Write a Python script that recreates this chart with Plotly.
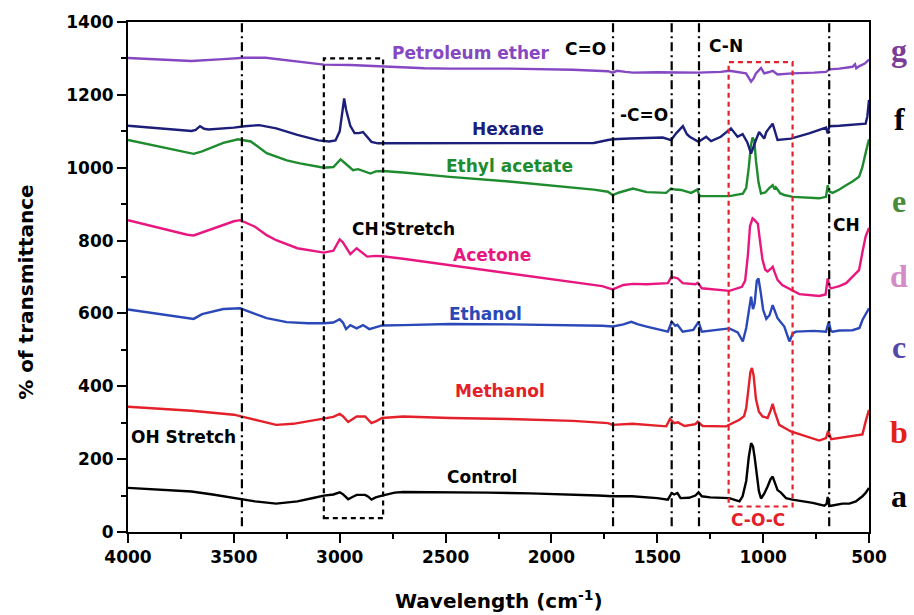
import plotly.graph_objects as go

# FTIR spectra of extracts in different solvents (stacked, offset transmittance)
control_wn = [4000, 3850, 3700, 3600, 3500, 3400, 3300, 3200, 3120, 3075, 3030, 3000, 2985, 2960, 2940,
              2920, 2880, 2865, 2850, 2830, 2800, 2770, 2740, 2700, 2600, 2480, 2300, 2100, 1900, 1780, 1710,
              1620, 1500, 1450, 1432, 1420, 1405, 1390, 1350, 1320, 1305, 1290, 1250, 1200, 1160, 1112,
              1097, 1080, 1068, 1057, 1048, 1040, 1030, 1020, 1010, 995, 979, 965, 955, 945, 932, 916,
              892, 862, 766, 711, 700, 695, 688, 679, 625, 593, 562, 531, 515, 500]
control_t = [121, 116, 111, 103, 93, 84, 78, 84, 94, 100, 103, 109, 104, 90, 96,
             102, 102, 97, 89, 95, 100, 104, 108, 110, 110, 109, 108, 106, 103, 100, 98,
             98, 93, 89, 107, 103, 107, 93, 94, 100, 109, 98, 95, 93, 93, 84,
             98, 140, 205, 244, 235, 205, 150, 112, 92, 105, 125, 145, 152, 135, 115, 108,
             93, 89, 80, 72, 78, 96, 72, 72, 78, 78, 84, 98, 108, 121]

methanol_wn = [4000, 3850, 3700, 3500, 3400, 3300, 3220, 3120, 3075, 3030, 3000, 2985, 2960, 2940, 2920,
               2880, 2865, 2850, 2825, 2800, 2700, 2480, 2200, 1900, 1733, 1711, 1617, 1458, 1440, 1420,
               1403, 1371, 1320, 1309, 1286, 1175, 1112, 1090, 1080, 1070, 1060, 1053, 1045, 1034, 1020,
               1003, 979, 967, 955, 945, 932, 924, 869, 797, 735, 703, 693, 679, 608, 547, 531, 516, 500]
methanol_t = [344, 338, 333, 322, 308, 294, 297, 306, 310, 316, 324, 318, 302, 310, 317,
              317, 308, 299, 305, 313, 317, 313, 310, 305, 299, 294, 297, 290, 310, 299,
              301, 291, 296, 303, 291, 290, 308, 318, 340, 395, 440, 450, 430, 365, 330,
              317, 313, 330, 352, 330, 305, 294, 276, 262, 251, 258, 278, 255, 262, 266, 268, 303, 335]

ethanol_wn = [4000, 3850, 3720, 3690, 3650, 3550, 3470, 3400, 3345, 3250, 3150, 3075, 3030, 3000, 2985, 2970,
              2950, 2920, 2890, 2860, 2830, 2800, 2700, 2480, 2200, 1900, 1760, 1710, 1660, 1623, 1590,
              1550, 1450, 1432, 1415, 1405, 1380, 1330, 1305, 1290, 1200, 1160, 1120, 1096, 1080, 1065,
              1057, 1048, 1040, 1030, 1022, 1012, 1000, 985, 970, 955, 940, 932, 900, 885, 876, 860,
              845, 760, 703, 690, 680, 672, 640, 578, 545, 531, 515, 500]
ethanol_t = [611, 598, 587, 585, 598, 612, 614, 600, 587, 576, 573, 573, 575, 584, 575, 557,
             568, 559, 568, 557, 562, 567, 568, 571, 570, 568, 566, 564, 570, 577, 570,
             564, 550, 577, 566, 569, 550, 555, 577, 550, 555, 559, 548, 523, 560, 612,
             646, 612, 628, 690, 696, 660, 610, 585, 595, 623, 600, 587, 564, 540, 523, 545,
             550, 552, 550, 577, 552, 550, 553, 554, 560, 582, 600, 614]

acetone_wn = [4000, 3850, 3720, 3690, 3600, 3500, 3470, 3400, 3345, 3300, 3200, 3120, 3075, 3030, 3000, 2985, 2950,
              2920, 2900, 2870, 2830, 2800, 2700, 2600, 2480, 2300, 2100, 1900, 1760, 1711, 1660, 1615,
              1550, 1450, 1435, 1420, 1403, 1380, 1320, 1309, 1290, 1159, 1100, 1085, 1072, 1062, 1050,
              1040, 1025, 1015, 1003, 990, 979, 965, 955, 945, 932, 910, 892, 829, 735, 705, 695, 685,
              679, 640, 608, 547, 532, 516, 500]
acetone_t = [856, 835, 816, 814, 833, 853, 856, 838, 815, 801, 779, 770, 767, 772, 803, 795, 763,
             779, 770, 756, 758, 757, 750, 742, 733, 718, 703, 688, 675, 666, 678, 681,
             680, 683, 699, 699, 696, 683, 680, 684, 669, 662, 673, 690, 760, 840, 861,
             856, 846, 800, 747, 720, 715, 722, 728, 712, 692, 678, 672, 653, 648, 652, 696, 672,
             669, 675, 683, 719, 765, 811, 835]

ethyl_acetate_wn = [4000, 3850, 3720, 3690, 3650, 3550, 3480, 3420, 3345, 3250, 3188, 3075, 3030, 2996, 2980, 2937,
                    2913, 2890, 2855, 2830, 2797, 2700, 2480, 2200, 1900, 1800, 1733, 1711, 1680, 1615, 1550,
                    1458, 1435, 1415, 1388, 1340, 1311, 1300, 1200, 1159, 1096, 1080, 1068, 1058, 1050, 1042,
                    1034, 1022, 1010, 990, 970, 955, 945, 940, 932, 920, 900, 860, 735, 703, 695, 688,
                    672, 640, 608, 578, 547, 532, 516, 500]
ethyl_acetate_t = [1076, 1057, 1040, 1038, 1045, 1068, 1078, 1072, 1040, 1020, 1012, 1000, 1002, 1023, 1015, 993,
                   996, 992, 984, 990, 991, 987, 975, 962, 945, 940, 934, 925, 932, 943, 933,
                   931, 943, 940, 939, 931, 940, 922, 922, 922, 929, 945, 1000, 1060, 1083, 1075,
                   1020, 960, 929, 932, 945, 952, 940, 946, 940, 930, 925, 920, 916, 920, 952, 935,
                   931, 940, 952, 962, 975, 1000, 1040, 1078]

hexane_wn = [4000, 3850, 3700, 3680, 3660, 3640, 3620, 3500, 3450, 3380, 3300, 3200, 3100, 3050, 3020,
             3000, 2990, 2979, 2970, 2950, 2930, 2910, 2890, 2870, 2850, 2820, 2700, 2480, 2200, 2000,
             1800, 1733, 1709, 1631, 1474, 1435, 1410, 1379, 1360, 1347, 1305, 1269, 1246, 1200, 1152,
             1121, 1097, 1075, 1057, 1034, 1019, 995, 985, 970, 955, 932, 869, 783, 703, 695, 687,
             640, 578, 516, 508, 500]
hexane_t = [1115, 1108, 1101, 1104, 1114, 1107, 1105, 1110, 1114, 1117, 1108, 1090, 1075, 1072, 1075,
            1100, 1150, 1190, 1160, 1115, 1095, 1095, 1098, 1085, 1071, 1067, 1067, 1067, 1067, 1067,
            1068, 1076, 1078, 1080, 1083, 1076, 1095, 1114, 1092, 1085, 1071, 1085, 1073, 1085, 1108,
            1085, 1092, 1070, 1039, 1076, 1098, 1080, 1098, 1110, 1121, 1076, 1080, 1094, 1110, 1094, 1114,
            1115, 1117, 1121, 1140, 1186]

pet_ether_wn = [4000, 3850, 3700, 3550, 3450, 3350, 3200, 3075, 2950, 2800, 2600, 2480, 2200, 1900, 1733,
                1711, 1690, 1650, 1615, 1500, 1432, 1305, 1200, 1159, 1081, 1068, 1057, 1045, 1034, 1010,
                995, 975, 955, 932, 900, 863, 760, 703, 687, 640, 578, 566, 560, 545, 520, 500]
pet_ether_t = [1301, 1296, 1293, 1298, 1302, 1302, 1292, 1283, 1282, 1278, 1273, 1272, 1272, 1269, 1265,
               1261, 1266, 1263, 1261, 1262, 1261, 1261, 1263, 1266, 1259, 1248, 1236, 1245, 1259, 1274,
               1259, 1262, 1266, 1256, 1258, 1259, 1261, 1263, 1270, 1272, 1277, 1284, 1273, 1279, 1286, 1297]

series = [
    ("Control", control_wn, control_t, "#000000"),
    ("Methanol", methanol_wn, methanol_t, "#E4202A"),
    ("Ethanol", ethanol_wn, ethanol_t, "#2A48B8"),
    ("Acetone", acetone_wn, acetone_t, "#E8177F"),
    ("Ethyl acetate", ethyl_acetate_wn, ethyl_acetate_t, "#1E8C2E"),
    ("Hexane", hexane_wn, hexane_t, "#1B1F7A"),
    ("Petroleum ether", pet_ether_wn, pet_ether_t, "#8547C2"),
]

# Band assignment guides (cm-1)
band_lines = [3462, 1709, 1432, 1303, 688]
ch_stretch_box = (3075, 2795, 38, 1300)
coc_box = (1163, 861, 70, 1290)

# Solvent labels: (text, x, y, colour)
trace_labels = [
    ("Petroleum ether", 2378, 1316, "#8547C2"),
    ("Hexane", 2207, 1105, "#1B1F7A"),
    ("Ethyl acetate", 2200, 1004, "#1E8C2E"),
    ("Acetone", 2279, 760, "#E8177F"),
    ("Ethanol", 2310, 599, "#2A48B8"),
    ("Methanol", 2244, 388, "#E4202A"),
    ("Control", 2329, 151, "#000000"),
]
band_labels = [
    ("C=O", 1839, 1325, "#000000"),
    ("C-N", 1175, 1334, "#000000"),
    ("-C=O", 1565, 1144, "#000000"),
    ("CH Stretch", 2697, 833, "#000000"),
    ("CH", 608, 843, "#000000"),
    ("OH Stretch", 3739, 260, "#000000"),
    ("C-O-C", 1022, 34, "#E4202A"),
]
panel_letters = [
    ("g", 1322, "#7B3B97"), ("f", 1133, "#000000"), ("e", 908, "#4A8B3A"),
    ("d", 703, "#D58BC8"), ("c", 508, "#5547A8"), ("b", 275, "#E3201B"), ("a", 100, "#000000"),
]

FONT = "DejaVu Sans"

fig = go.Figure()
for name, wn, t, color in series:
    fig.add_trace(go.Scatter(x=wn, y=t, mode="lines", name=name,
                             line=dict(color=color, width=2.4), showlegend=False))

for wn in band_lines:
    fig.add_shape(type="line", x0=wn, x1=wn, y0=16, y1=1400, xref="x", yref="y",
                  line=dict(color="black", width=2.2, dash="9px,4px,2px,4px"))

x0, x1, y0, y1 = ch_stretch_box
fig.add_shape(type="rect", x0=x0, x1=x1, y0=y0, y1=y1, xref="x", yref="y",
              line=dict(color="black", width=2.2, dash="5px,4px"))
x0, x1, y0, y1 = coc_box
fig.add_shape(type="rect", x0=x0, x1=x1, y0=y0, y1=y1, xref="x", yref="y",
              line=dict(color="#E4202A", width=2.2, dash="5px,4px"))

for text, x, y, color in trace_labels + band_labels:
    fig.add_annotation(x=x, y=y, xref="x", yref="y", text=text, showarrow=False,
                       xanchor="center", yanchor="middle",
                       font=dict(family=FONT, size=17, color=color, weight="bold"))

for letter, y, color in panel_letters:
    fig.add_annotation(x=1.041, y=y, xref="paper", yref="y", text=letter, showarrow=False,
                       xanchor="center", yanchor="middle",
                       font=dict(family="Liberation Serif", size=32, color=color, weight="bold"))

# Axis titles
fig.add_annotation(x=0.5, y=-0.133, xref="paper", yref="paper", xanchor="center", yanchor="middle",
                   text="Wavelength (cm<sup>-1</sup>)", showarrow=False,
                   font=dict(family=FONT, size=20, color="black", weight="bold"))
fig.add_annotation(x=-0.137, y=0.47, xref="paper", yref="paper", xanchor="center", yanchor="middle",
                   textangle=-90, text="% of transmittance", showarrow=False,
                   font=dict(family=FONT, size=20, color="black", weight="bold"))

axis_common = dict(showline=True, linecolor="black", linewidth=2, mirror=True,
                   ticks="outside", ticklen=9, tickwidth=2, tickcolor="black",
                   showgrid=False, zeroline=False,
                   tickfont=dict(family=FONT, size=17, color="black", weight="bold"))

fig.update_xaxes(range=[4000, 500], tickvals=[4000, 3500, 3000, 2500, 2000, 1500, 1000, 500],
                 minor=dict(ticks="outside", ticklen=5, tickwidth=2, tickcolor="black", dtick=250,
                            tick0=500),
                 **axis_common)
fig.update_yaxes(range=[0, 1400], dtick=200, tick0=0,
                 minor=dict(ticks="outside", ticklen=5, tickwidth=2, tickcolor="black", dtick=100),
                 **axis_common)

fig.update_layout(width=914, height=615, margin=dict(l=128, r=45, t=22, b=83),
                  plot_bgcolor="white", paper_bgcolor="white")

fig.write_html("out.html")
